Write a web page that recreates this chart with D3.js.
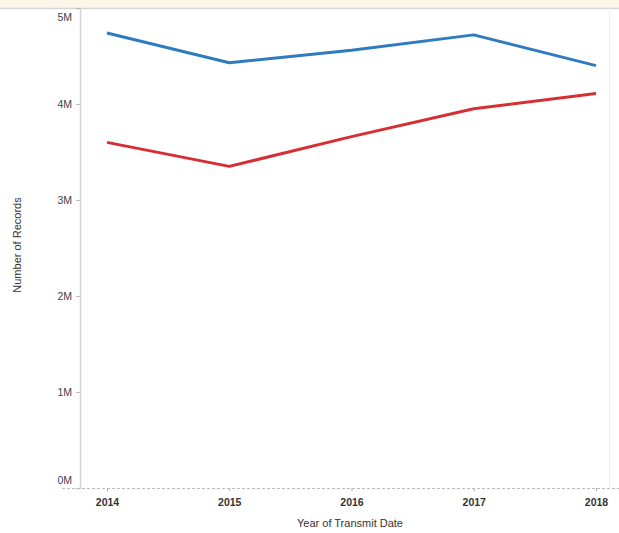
<!DOCTYPE html>
<html><head><meta charset="utf-8">
<script src="https://cdn.jsdelivr.net/npm/d3@7"></script>
<style>
html,body{margin:0;padding:0;background:#fff;}
svg{display:block;font-family:"Liberation Sans",Arial,sans-serif;}
</style></head>
<body>
<svg id="c" width="619" height="533"></svg>
<script>
const years = [2014, 2015, 2016, 2017, 2018];
const blueValues = [4.74e6, 4.43e6, 4.56e6, 4.72e6, 4.40e6];
const redValues = [3.60e6, 3.35e6, 3.66e6, 3.95e6, 4.11e6];
const yTicks = [0, 1e6, 2e6, 3e6, 4e6, 5e6];

const svg = d3.select("#c");
const W = 619, H = 533;
const plotLeft = 80, plotRight = 609, plotTop = 8, plotBottom = 488;

svg.append("rect").attr("x",0).attr("y",0).attr("width",W).attr("height",plotTop).attr("fill","#fcf7ea");
svg.append("line").attr("x1",0).attr("x2",W).attr("y1",plotTop+0.5).attr("y2",plotTop+0.5)
  .attr("stroke","#d6d6d6").attr("stroke-width",1.5);
svg.append("line").attr("x1",plotRight+0.5).attr("x2",plotRight+0.5).attr("y1",plotTop).attr("y2",plotBottom)
  .attr("stroke","#f0f0f0");

const x = d3.scalePoint().domain(years).range([107, 596]);
const y = d3.scaleLinear().domain([0, 5e6]).range([plotBottom, plotTop]);

const yAxis = svg.append("g").attr("transform",`translate(${plotLeft},0)`)
  .call(d3.axisLeft(y).tickValues(yTicks).tickSize(4).tickFormat(d => (d/1e6)+"M"));
yAxis.select(".domain").attr("stroke","#d4d4d4").attr("stroke-width",1.5);
yAxis.selectAll(".tick line").attr("stroke","#bbb");
yAxis.selectAll(".tick text").attr("fill","#444").attr("font-size",10.5).attr("x",-8)
  .attr("dy", d => d === 5e6 ? "1.2em" : (d === 0 ? "-0.4em" : "0.32em"));

const xAxis = svg.append("g").attr("transform",`translate(0,${plotBottom})`)
  .call(d3.axisBottom(x).tickSize(3).tickFormat(d3.format("d")));
xAxis.select(".domain").remove();
svg.append("line").attr("x1",62).attr("x2",W).attr("y1",plotBottom+0.5).attr("y2",plotBottom+0.5)
  .attr("stroke","#bbb").attr("stroke-dasharray","3,2");
xAxis.selectAll(".tick line").attr("stroke","#aaa");
xAxis.selectAll(".tick text").attr("fill","#333").attr("font-size",10.5).attr("font-weight","bold").attr("y",11);

svg.append("text").attr("x",350).attr("y",527).attr("text-anchor","middle")
  .attr("font-size",11).attr("fill","#333").text("Year of Transmit Date");
svg.append("text").attr("transform","translate(21,245) rotate(-90)").attr("text-anchor","middle")
  .attr("font-size",11).attr("fill","#333").text("Number of Records");

const line = d3.line().x((d,i) => x(years[i])).y(d => y(d));
svg.append("path").datum(redValues).attr("d",line).attr("fill","none")
  .attr("stroke","#d62f33").attr("stroke-width",3).attr("stroke-linejoin","round");
svg.append("path").datum(blueValues).attr("d",line).attr("fill","none")
  .attr("stroke","#2f7bbf").attr("stroke-width",3).attr("stroke-linejoin","round");
</script>
</body></html>
